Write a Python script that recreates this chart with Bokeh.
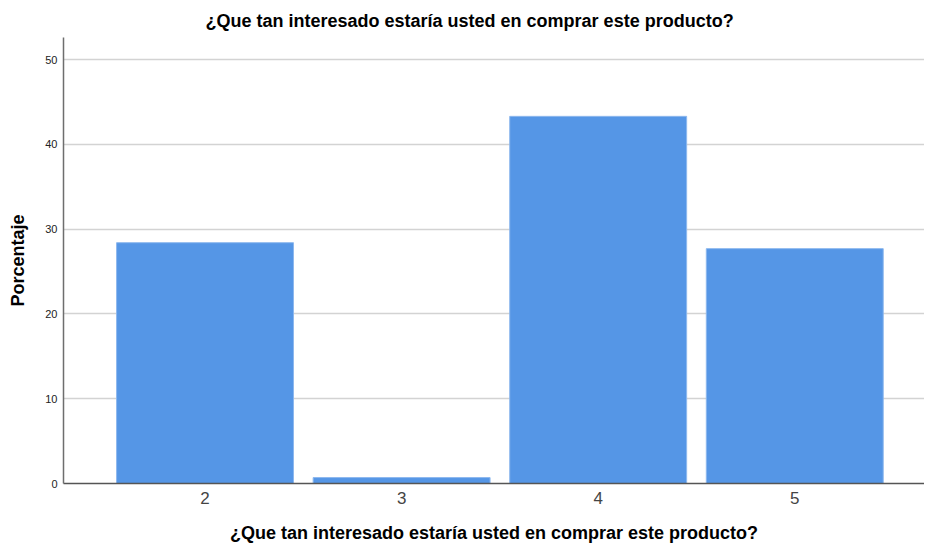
from bokeh.plotting import figure
from bokeh.models import ColumnDataSource, FixedTicker, Range1d
from bokeh.embed import file_html
from bokeh.resources import INLINE

categories = [2, 3, 4, 5]
percentages = [28.4, 0.7, 43.3, 27.7]
y_ticks = [0, 10, 20, 30, 40, 50]
x_ticks = [2, 3, 4, 5]
title_text = "¿Que tan interesado estaría usted en comprar este producto?"
x_label = "¿Que tan interesado estaría usted en comprar este producto?"
y_label = "Porcentaje"

src = ColumnDataSource(dict(x=categories, top=percentages))

p = figure(width=924, height=545, output_backend="svg", toolbar_location=None,
           x_range=Range1d(1.28, 5.66), y_range=Range1d(0, 52.6),
           min_border_left=63, min_border_right=0, min_border_top=37, min_border_bottom=0)
p.title.text = title_text
p.title.align = "left"
p.title.offset = 142
p.title.standoff = 14
p.title.text_font = "Liberation Sans"
p.title.text_font_size = "18px"
p.title.text_font_style = "bold"
p.title.text_color = "#000000"

p.vbar(x="x", top="top", width=0.9, source=src, fill_color="#5596E6",
       line_color="#8DB8EE", line_width=1)

p.outline_line_color = None
p.xgrid.grid_line_color = None
p.ygrid.grid_line_color = "#D3D3D3"
p.ygrid.grid_line_width = 1.5

p.yaxis.ticker = FixedTicker(ticks=y_ticks)
p.xaxis.ticker = FixedTicker(ticks=x_ticks)
p.yaxis.minor_tick_line_color = None
p.xaxis.minor_tick_line_color = None
p.yaxis.major_tick_out = 0
p.yaxis.major_tick_in = 0
p.xaxis.major_tick_out = 0
p.xaxis.major_tick_in = 0
p.yaxis.axis_line_color = "#6E6E6E"
p.xaxis.axis_line_color = "#555555"
p.yaxis.axis_line_width = 1.5
p.xaxis.axis_line_width = 1.5

p.yaxis.major_label_text_font = "Liberation Sans"
p.yaxis.major_label_text_font_size = "11px"
p.yaxis.major_label_text_color = "#222222"
p.yaxis.major_label_standoff = 6
p.xaxis.major_label_text_font = "Liberation Sans"
p.xaxis.major_label_text_font_size = "17px"
p.xaxis.major_label_text_color = "#444444"
p.xaxis.major_label_standoff = 8

p.yaxis.axis_label = y_label
p.xaxis.axis_label = x_label
for ax in (p.xaxis, p.yaxis):
    ax.axis_label_text_font = "Liberation Sans"
    ax.axis_label_text_font_size = "18px"
    ax.axis_label_text_font_style = "bold"
    ax.axis_label_text_color = "#000000"
p.yaxis.axis_label_standoff = 14
p.xaxis.axis_label_standoff = 16

open("out.html", "w").write(file_html(p, INLINE))
